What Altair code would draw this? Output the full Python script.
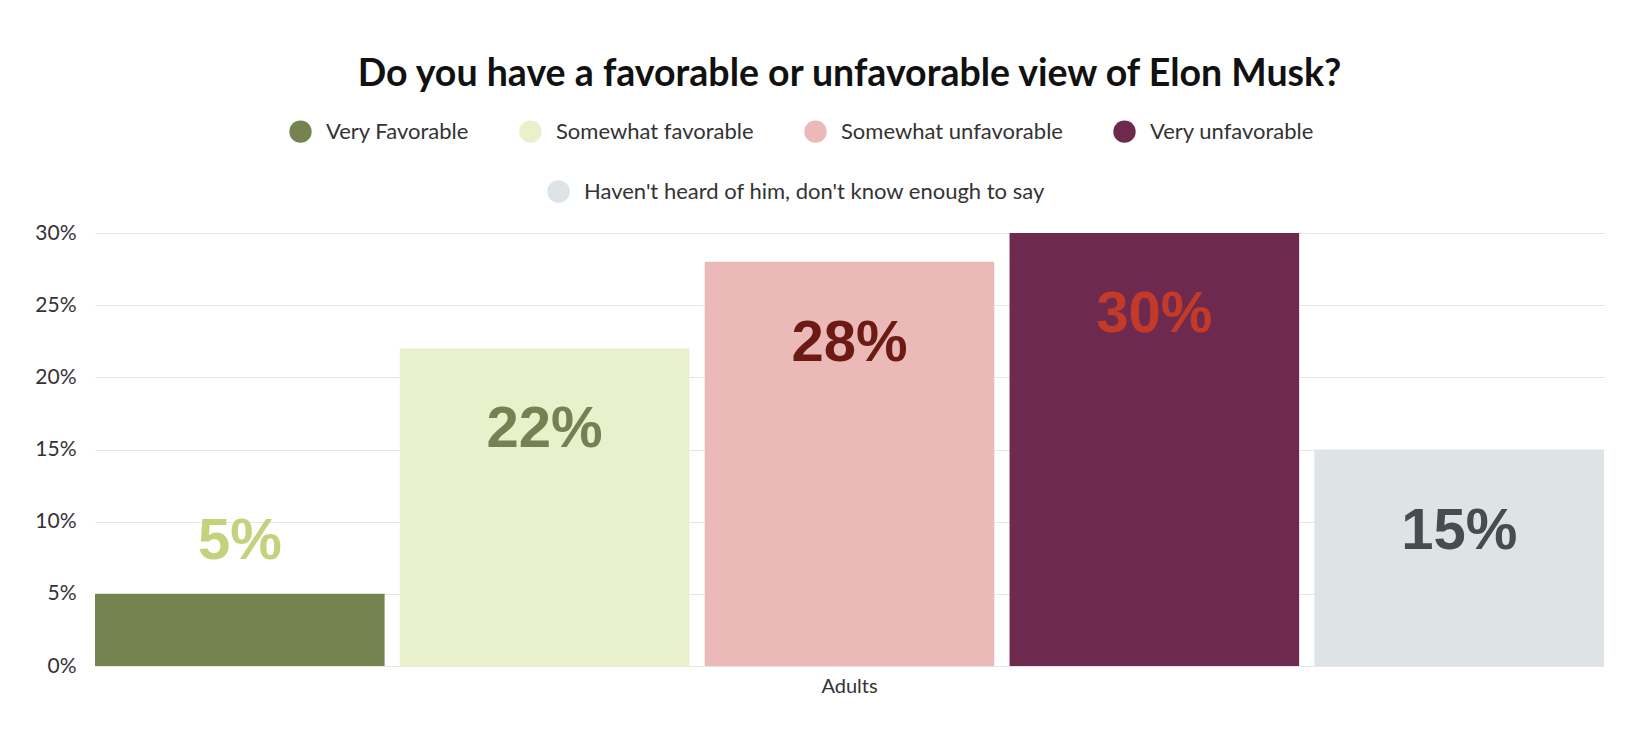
import pandas as pd
import altair as alt

# survey answers, in chart order
categories = [
    "Very Favorable",
    "Somewhat favorable",
    "Somewhat unfavorable",
    "Very unfavorable",
    "Haven't heard of him, don't know enough to say",
]
values = [5, 22, 28, 30, 15]
group = "Adults"

bar_colors = ["#758351", "#e9f0cc", "#ebbab8", "#6e2a4e", "#dee3e5"]
label_colors = ["#c3d27c", "#748253", "#6b1a14", "#c43a28", "#474c50"]

df = pd.DataFrame(
    {
        "group": [group] * len(categories),
        "category": categories,
        "value": values,
        "label": [f"{v}%" for v in values],
    }
)

main_cats = categories[:4]
extra_cats = categories[4:]

x_enc = alt.X(
    "group:N",
    title=None,
    scale=alt.Scale(paddingInner=0, paddingOuter=0),
    axis=alt.Axis(
        labelAngle=0,
        labelFontSize=20,
        labelColor="#333333",
        labelFont="Lato",
        labelPadding=10,
        ticks=False,
        domain=False,
        grid=False,
    ),
)
xoff_enc = alt.XOffset(
    "category:N",
    scale=alt.Scale(domain=categories, paddingInner=0.05, paddingOuter=0),
)
y_enc = alt.Y(
    "value:Q",
    title=None,
    scale=alt.Scale(domain=[0, 30], nice=False),
    axis=alt.Axis(
        values=[0, 5, 10, 15, 20, 25, 30],
        labelExpr="datum.value + '%'",
        labelFontSize=21,
        labelFont="Lato",
        labelColor="#333333",
        labelPadding=19,
        ticks=False,
        domain=False,
        gridColor="#e6e6e6",
        gridWidth=1.2,
    ),
)


def legend_for(x, y):
    return alt.Legend(
        title=None,
        orient="none",
        legendX=x,
        legendY=y,
        direction="horizontal",
        symbolType="circle",
        symbolSize=500,
        symbolStrokeWidth=0,
        symbolOpacity=1,
        labelFont="Lato",
        labelFontSize=22,
        labelColor="#333333",
        labelOffset=14,
        columnPadding=50,
        labelLimit=700,
    )


base = alt.Chart(df)

bars_main = (
    base.transform_filter(alt.FieldOneOfPredicate(field="category", oneOf=main_cats))
    .mark_bar()
    .encode(
        x=x_enc,
        xOffset=xoff_enc,
        y=y_enc,
        color=alt.Color(
            "category:N",
            scale=alt.Scale(domain=main_cats, range=bar_colors[:4]),
            sort=main_cats,
            legend=legend_for(194, -113),
        ),
    )
)

bars_extra = (
    base.transform_filter(alt.FieldOneOfPredicate(field="category", oneOf=extra_cats))
    .mark_bar()
    .encode(
        x=x_enc,
        xOffset=xoff_enc,
        y=y_enc,
        color=alt.Color(
            "category:N",
            scale=alt.Scale(domain=extra_cats, range=bar_colors[4:]),
            legend=legend_for(452, -53),
        ),
    )
)

label_color = alt.Color(
    "category:N",
    scale=alt.Scale(domain=categories, range=label_colors),
    legend=None,
)

# big labels sit inside the bar, the short bar gets its label above
labels_in = (
    base.transform_filter("datum.value >= 10")
    .mark_text(font="Liberation Sans", fontSize=58, fontWeight="bold", dy=82, baseline="middle")
    .encode(x=x_enc, xOffset=xoff_enc, y=y_enc, text="label:N", color=label_color)
)
labels_out = (
    base.transform_filter("datum.value < 10")
    .mark_text(font="Liberation Sans", fontSize=58, fontWeight="bold", dy=-52, baseline="middle")
    .encode(x=x_enc, xOffset=xoff_enc, y=y_enc, text="label:N", color=label_color)
)

chart = (
    alt.layer(bars_main, bars_extra, labels_in, labels_out)
    .resolve_scale(color="independent")
    .properties(
        width=1509,
        height=433,
        background="white",
        padding={"left": 26, "top": 47, "right": 5, "bottom": 5},
        title=alt.TitleParams(
            "Do you have a favorable or unfavorable view of Elon Musk?",
            font="Lato",
            fontSize=37.5,
            fontWeight="bold",
            color="#111111",
            anchor="middle",
            offset=27,
        ),
    )
    .configure_view(stroke=None, strokeWidth=0)
)

chart.save("out.html", embed_options={"renderer": "svg", "actions": False})
